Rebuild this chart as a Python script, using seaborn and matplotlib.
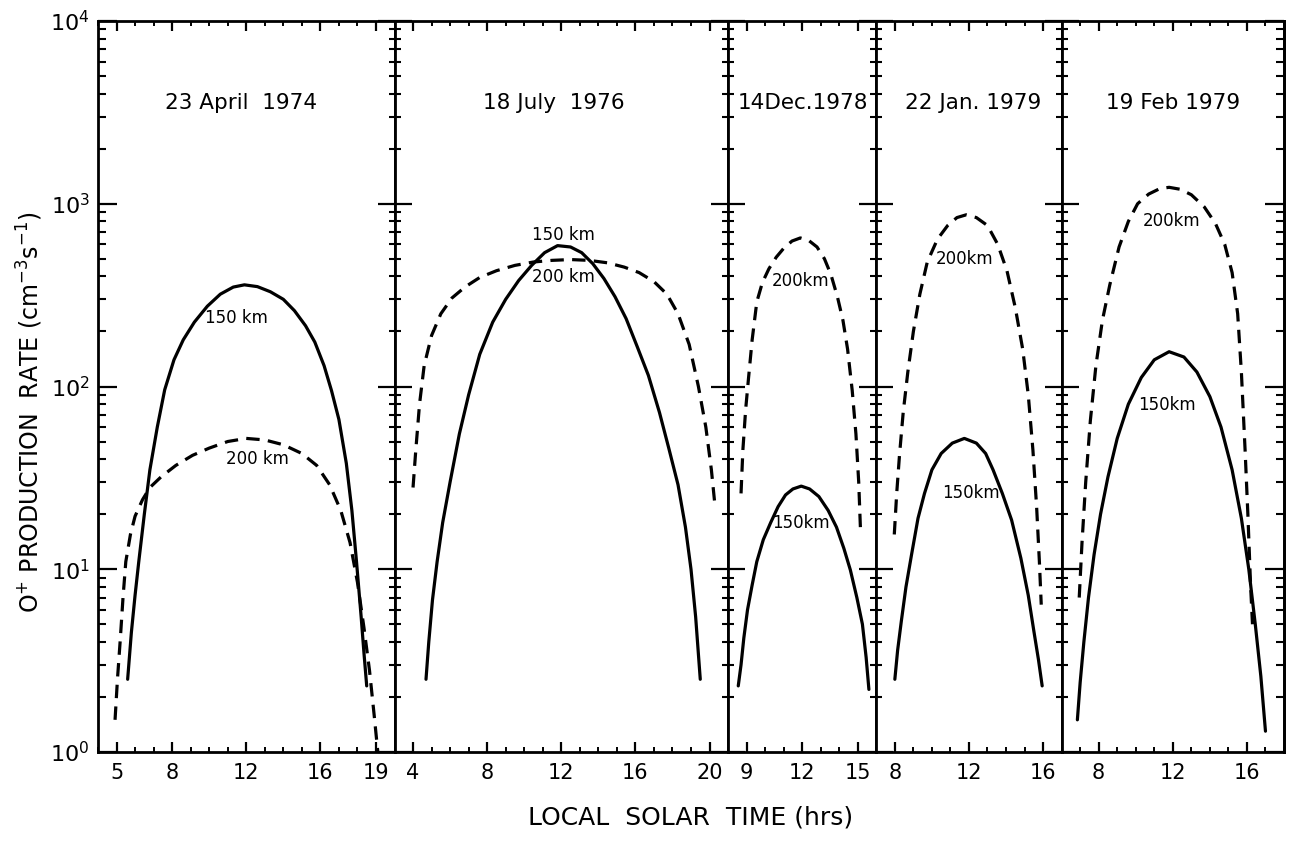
import numpy as np
import pandas as pd
import matplotlib
matplotlib.use("Agg")
import matplotlib.pyplot as plt
import seaborn as sns
from matplotlib.ticker import LogLocator, FixedLocator, NullFormatter, LogFormatterMathtext

sns.set_theme(style="white")
plt.rcParams['font.family'] = ['DejaVu Sans']
plt.rcParams['mathtext.default'] = 'regular'
for k in ['text.color', 'axes.labelcolor', 'xtick.color', 'ytick.color', 'axes.edgecolor']:
    plt.rcParams[k] = 'black'

# ---- data (local solar time in hrs, production rate cm^-3 s^-1) ----
titles = ["23 April  1974", "18 July  1976", "14Dec.1978", "22 Jan. 1979", "19 Feb 1979"]
xlims = [(4, 20), (3, 21), (8, 16), (7, 17), (6, 18)]
xmajor = [[5, 8, 12, 16, 19], [4, 8, 12, 16, 20], [9, 12, 15], [8, 12, 16], [8, 12, 16]]

p1_150_t = [5.6, 5.8, 6.0, 6.2, 6.5, 6.8, 7.2, 7.6, 8.1, 8.6, 9.2, 9.9, 10.6, 11.3, 11.9, 12.6, 13.3,
            14.0, 14.6, 15.2, 15.7, 16.2, 16.6, 17.0, 17.4, 17.7, 17.95, 18.2, 18.35, 18.5]
p1_150_v = [2.5, 4.5, 7.2, 11, 20, 35, 60, 96, 140, 180, 225, 275, 320, 350, 360, 352, 330,
            300, 260, 215, 175, 130, 95, 66, 38, 21, 11, 5.5, 3.5, 2.3]
p1_200_t = [4.92, 5.05, 5.2, 5.35, 5.5, 5.75, 6.0, 6.4, 6.8, 7.4, 8.2, 9.1, 10.0, 11.0, 12.0, 13.0,
            14.0, 15.0, 15.8, 16.5, 17.1, 17.6, 18.0, 18.35, 18.65, 18.9, 19.1]
p1_200_v = [1.5, 2.5, 4.1, 7, 11, 15.5, 19.5, 24, 28, 32, 37, 42, 46, 50, 52, 51,
            48, 43, 37, 29, 21, 14, 8.5, 4.8, 2.8, 1.6, 1.0]

p2_150_t = [4.7, 4.85, 5.05, 5.3, 5.6, 6.0, 6.5, 7.0, 7.6, 8.3, 9.0, 9.7, 10.4, 11.1, 11.8, 12.5, 13.1,
            13.7, 14.3, 14.9, 15.5, 16.1, 16.7, 17.3, 17.8, 18.3, 18.7, 19.0, 19.25, 19.5]
p2_150_v = [2.5, 4.0, 6.8, 11, 18, 30, 55, 90, 150, 225, 300, 380, 460, 540, 590, 580, 540,
            470, 390, 310, 235, 165, 115, 72, 46, 29, 17, 10, 5.5, 2.5]
p2_200_t = [4.0, 4.15, 4.35, 4.6, 5.0, 5.5, 6.1, 6.8, 7.6, 8.5, 9.5, 10.5, 11.5, 12.5, 13.5,
            14.5, 15.4, 16.2, 17.0, 17.7, 18.3, 18.9, 19.4, 19.8, 20.1, 20.3]
p2_200_v = [28, 45, 80, 130, 190, 250, 305, 350, 395, 430, 460, 480, 490, 495, 490,
            475, 450, 420, 375, 320, 250, 170, 100, 60, 35, 22]

p3_150_t = [8.55, 8.7, 8.85, 9.05, 9.3, 9.55, 9.9, 10.3, 10.7, 11.1, 11.5, 11.95, 12.4, 12.9, 13.4,
            13.85, 14.25, 14.6, 14.95, 15.25, 15.45, 15.6]
p3_150_v = [2.3, 3.0, 4.2, 6.0, 8.2, 11, 14.5, 18, 22, 25.5, 27.5, 28.5, 27.5, 25, 21,
            17, 13, 9.9, 7, 5, 3.3, 2.2]
p3_200_t = [8.7, 8.8, 8.95, 9.1, 9.3, 9.55, 9.85, 10.2, 10.6, 11.0, 11.45, 11.9, 12.35, 12.8, 13.2,
            13.55, 13.9, 14.2, 14.45, 14.7, 14.9, 15.05, 15.15]
p3_200_v = [26, 45, 75, 110, 180, 290, 370, 440, 510, 570, 625, 650, 630, 580, 500,
            410, 310, 230, 160, 95, 55, 30, 16]

p4_150_t = [8.0, 8.15, 8.35, 8.6, 8.9, 9.25, 9.6, 10.0, 10.5, 11.1, 11.75, 12.4, 12.9, 13.3, 13.8,
            14.3, 14.8, 15.2, 15.5, 15.75, 15.95]
p4_150_v = [2.5, 3.6, 5.2, 8, 12, 19, 26, 35, 43, 49, 52, 49, 43, 35, 26,
            18.6, 11.5, 7.2, 4.6, 3.2, 2.3]
p4_200_t = [7.97, 8.1, 8.25, 8.45, 8.7, 9.0, 9.35, 9.75, 10.3, 10.85, 11.35, 11.85, 12.4, 13.0,
            13.55, 14.05, 14.5, 14.9, 15.2, 15.45, 15.65, 15.8, 15.9]
p4_200_v = [15.5, 26, 42, 72, 120, 200, 320, 480, 640, 760, 840, 870, 840, 760,
            600, 430, 270, 160, 90, 45, 22, 11, 6.4]

p5_150_t = [6.85, 7.0, 7.2, 7.45, 7.75, 8.1, 8.5, 9.0, 9.6, 10.3, 11.0, 11.8, 12.6, 13.3, 14.0,
            14.6, 15.2, 15.7, 16.1, 16.45, 16.75, 17.0]
p5_150_v = [1.5, 2.4, 4.0, 7, 12, 20, 32, 52, 80, 112, 140, 155, 145, 120, 88,
            60, 35, 19, 10, 5, 2.6, 1.3]
p5_200_t = [6.95, 7.1, 7.3, 7.55, 7.85, 8.2, 8.6, 9.1, 9.6, 10.1, 10.7, 11.3, 11.8, 12.4, 13.0,
            13.7, 14.3, 14.8, 15.2, 15.5, 15.7, 15.9, 16.05, 16.2, 16.3]
p5_200_v = [7, 14, 30, 65, 130, 230, 360, 580, 800, 1000, 1130, 1210, 1230, 1200, 1120,
            960, 780, 600, 420, 250, 120, 45, 20, 8, 5]

curves_150 = [(p1_150_t, p1_150_v), (p2_150_t, p2_150_v), (p3_150_t, p3_150_v),
              (p4_150_t, p4_150_v), (p5_150_t, p5_150_v)]
curves_200 = [(p1_200_t, p1_200_v), (p2_200_t, p2_200_v), (p3_200_t, p3_200_v),
              (p4_200_t, p4_200_v), (p5_200_t, p5_200_v)]

# label anchor positions (hr, value) and texts
lab150 = [(11.45, 237, "150 km"), (12.1, 675, "150 km"), (11.95, 18, "150km"), (12.1, 26, "150km"), (11.67, 79, "150km")]
lab200 = [(12.6, 40, "200 km"), (12.1, 397, "200 km"), (11.9, 380, "200km"), (11.75, 500, "200km"), (11.95, 800, "200km")]
title_x = [11.7, 11.6, 12.05, 12.2, 12.0]

# ---- figure ----
W, H = 1290, 841
fig = plt.figure(figsize=(W / 100, H / 100), dpi=100)
widths = [b - a for a, b in xlims]
gs = fig.add_gridspec(1, 5, width_ratios=widths, wspace=0,
                      left=98 / W, right=1284 / W, top=1 - 21 / H, bottom=1 - 752 / H)

lw = 2.3
axes = []
for i in range(5):
    ax = fig.add_subplot(gs[0, i])
    axes.append(ax)
    ax.set_yscale('log')
    t, v = curves_150[i]
    df = pd.DataFrame({"t": t, "v": v})
    sns.lineplot(data=df, x="t", y="v", ax=ax, color="black", lw=lw, sort=False,
                 estimator=None)
    t, v = curves_200[i]
    df = pd.DataFrame({"t": t, "v": v})
    sns.lineplot(data=df, x="t", y="v", ax=ax, color="black", lw=lw, sort=False,
                 estimator=None, linestyle=(0, (4.2, 2.6)))
    ax.set_xlim(*xlims[i])
    ax.set_ylim(1, 1e4)
    ax.set_xlabel("")
    ax.set_ylabel("")
    for s in ax.spines.values():
        s.set_linewidth(2.0)
        s.set_color("black")
        s.set_visible(True)
    ax.xaxis.set_major_locator(FixedLocator(xmajor[i]))
    ax.xaxis.set_minor_locator(FixedLocator(list(range(int(np.ceil(xlims[i][0])), int(xlims[i][1]) + 1))))
    ax.tick_params(axis='x', which='major', direction='in', length=7, width=1.6,
                   top=True, bottom=True, labelsize=15, pad=8)
    ax.tick_params(axis='x', which='minor', direction='in', length=3.5, width=1.4,
                   top=True, bottom=True)
    ax.yaxis.set_major_locator(LogLocator(base=10, numticks=10))
    ax.yaxis.set_minor_locator(LogLocator(base=10, subs=np.arange(2, 10), numticks=10))
    ax.yaxis.set_minor_formatter(NullFormatter())
    if i == 0:
        ax.tick_params(axis='y', which='major', direction='in', length=14, width=1.6,
                       left=True, right=False, labelsize=16, pad=6)
        ax.tick_params(axis='y', which='minor', direction='in', length=6, width=1.5,
                       left=True, right=False)
        ax.yaxis.set_major_formatter(LogFormatterMathtext())
    else:
        ax.tick_params(axis='y', which='major', direction='inout', length=24, width=1.6,
                       left=True, right=False, labelleft=False)
        ax.tick_params(axis='y', which='minor', direction='inout', length=8, width=1.5,
                       left=True, right=False)
    ax.text(title_x[i], 3550, titles[i], ha='center', va='center', fontsize=15.5)
    x, y, s = lab150[i]
    ax.text(x, y, s, ha='center', va='center', fontsize=12)
    x, y, s = lab200[i]
    ax.text(x, y, s, ha='center', va='center', fontsize=12)

# last panel: inward ticks on the right frame edge
ax = axes[4]
sec = ax.secondary_yaxis('right')
sec.yaxis.set_major_locator(LogLocator(base=10, numticks=10))
sec.yaxis.set_minor_locator(LogLocator(base=10, subs=np.arange(2, 10), numticks=10))
sec.yaxis.set_minor_formatter(NullFormatter())
sec.tick_params(axis='y', which='major', direction='in', length=14, width=1.6, labelright=False)
sec.tick_params(axis='y', which='minor', direction='in', length=6, width=1.5)
sec.spines['right'].set_linewidth(2.0)

fig.text(0.535, 1 - 818 / H, "LOCAL  SOLAR  TIME (hrs)", ha='center', va='center', fontsize=18)
fig.text(0.023, 0.51, r"O$^{+}$ PRODUCTION  RATE (cm$^{-3}$s$^{-1}$)", ha='center', va='center',
         rotation=90, fontsize=17)

fig.savefig("out.png", dpi=100, facecolor="white")
